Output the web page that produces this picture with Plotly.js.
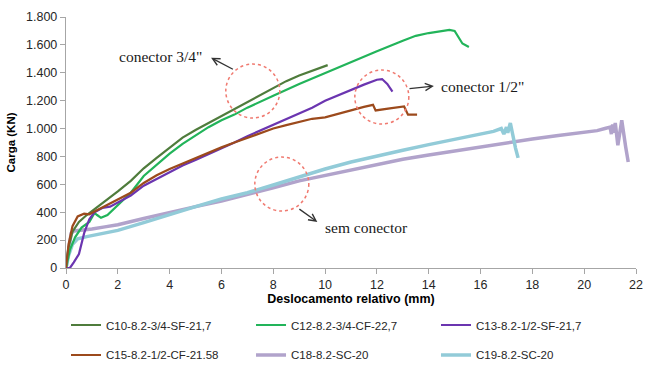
<!DOCTYPE html>
<html>
<head>
<meta charset="utf-8">
<script src="https://cdn.plot.ly/plotly-3.0.1.min.js"></script>
<style>html,body{margin:0;padding:0;background:#fff;}#chart{width:650px;height:365px;}</style>
</head>
<body>
<div id="chart"></div>
<script>
// ---- data ----
var seriesNames = ["C10-8.2-3/4-SF-21,7", "C12-8.2-3/4-CF-22,7", "C13-8.2-1/2-SF-21,7",
                   "C15-8.2-1/2-CF-21.58", "C18-8.2-SC-20", "C19-8.2-SC-20"];

var c10_x = [0, 0.1, 0.25, 0.5, 0.8, 1.2, 1.6, 2, 2.5, 3, 3.5, 4, 4.5, 5, 5.5, 6, 6.5, 7, 7.5, 8, 8.5, 9, 9.5, 10, 10.1];
var c10_y = [0, 150, 260, 330, 380, 435, 490, 550, 625, 715, 790, 865, 935, 990, 1040, 1090, 1140, 1195, 1245, 1295, 1340, 1380, 1415, 1450, 1455];

var c12_x = [0, 0.15, 0.35, 0.6, 0.9, 1.1, 1.2, 1.35, 1.6, 2, 2.5, 3, 3.5, 4, 4.5, 5, 5.5, 6, 6.5, 7, 7.5, 8, 9, 10, 11, 12, 13, 13.5, 14, 14.5, 14.8, 15.0, 15.2, 15.3, 15.55];
var c12_y = [0, 130, 220, 290, 330, 395, 380, 360, 380, 450, 540, 660, 740, 820, 890, 950, 1010, 1060, 1100, 1150, 1190, 1235, 1320, 1400, 1480, 1555, 1630, 1665, 1685, 1700, 1707, 1700, 1640, 1610, 1585];

var c13_x = [0, 0.15, 0.3, 0.5, 0.7, 0.9, 1.1, 1.4, 1.7, 2, 2.5, 3, 3.5, 4, 4.5, 5, 5.5, 6, 6.5, 7, 7.5, 8, 8.5, 9, 9.5, 10, 10.5, 11, 11.5, 12, 12.2, 12.4, 12.6];
var c13_y = [0, 0, 40, 100, 250, 350, 400, 430, 440, 470, 520, 590, 640, 690, 735, 775, 815, 855, 900, 945, 985, 1030, 1070, 1110, 1150, 1200, 1240, 1280, 1315, 1350, 1355, 1320, 1265];

var c15_x = [0, 0.1, 0.25, 0.45, 0.7, 0.9, 1.1, 1.5, 2, 2.5, 3, 3.5, 4, 4.5, 5, 5.5, 6, 6.5, 7, 7.5, 8, 8.5, 9, 9.5, 10, 10.5, 11, 11.5, 11.85, 11.95, 12.5, 13.05, 13.2, 13.55];
var c15_y = [0, 170, 300, 370, 390, 385, 405, 445, 490, 540, 610, 665, 710, 750, 790, 830, 865, 900, 935, 970, 1000, 1025, 1050, 1070, 1080, 1105, 1135, 1155, 1170, 1130, 1145, 1158, 1100, 1100];

var c18_x = [0, 0.1, 0.2, 0.3, 0.6, 1, 1.5, 2, 3, 4, 5, 6, 7, 8, 9, 10, 11, 12, 13, 14, 15, 16, 17, 18, 19, 20, 20.5, 20.8, 21, 21.05, 21.1, 21.15, 21.2, 21.3, 21.45, 21.6, 21.7];
var c18_y = [0, 150, 250, 265, 270, 280, 295, 310, 355, 400, 440, 480, 525, 575, 625, 665, 705, 745, 780, 810, 840, 870, 900, 925, 950, 970, 985, 1000, 1010, 960, 1030, 970, 1040, 880, 1060, 870, 760];

var c19_x = [0, 0.1, 0.25, 0.45, 0.8, 1.5, 2, 3, 4, 5, 6, 7, 8, 9, 10, 11, 12, 13, 14, 15, 16, 16.5, 16.8, 16.9, 17.0, 17.05, 17.15, 17.25, 17.35, 17.45];
var c19_y = [0, 90, 170, 210, 225, 250, 270, 325, 385, 440, 495, 540, 595, 655, 710, 760, 805, 845, 885, 925, 960, 980, 1000, 960, 1010, 970, 1040, 940, 860, 790];

var xTitle = "Deslocamento relativo (mm)";
var yTitle = "Carga (KN)";

var colors = ["#4F7C3C", "#22B45A", "#6B35B0", "#9C4A1C", "#B1A3CB", "#92CBD8"];
var widths = [2.2, 2.2, 2.2, 2.2, 3.5, 3.5];
var xs = [c10_x, c12_x, c13_x, c15_x, c18_x, c19_x];
var ys = [c10_y, c12_y, c13_y, c15_y, c18_y, c19_y];
var legendIds = ["legend", "legend2", "legend3", "legend4", "legend5", "legend6"];

var traces = [];
for (var i = 0; i < 6; i++) {
  traces.push({
    type: "scatter", mode: "lines", name: seriesNames[i],
    x: xs[i], y: ys[i],
    line: {color: colors[i], width: widths[i]},
    legend: legendIds[i]
  });
}
// draw the light ones underneath
traces = [traces[4], traces[5], traces[0], traces[1], traces[2], traces[3]];

var fam = "Liberation Sans, Arial, sans-serif";
var tickFont = {family: fam, size: 12.5, color: "#262626"};
var legFont = {family: fam, size: 11.5, color: "#262626"};
var serif = {family: "Liberation Serif, Times New Roman, serif", size: 15.5, color: "#1a1a1a"};

var circ = function (cx, cy) {
  return {type: "circle", xref: "x", yref: "y", xsizemode: "pixel", ysizemode: "pixel",
          xanchor: cx, yanchor: cy, x0: -27, x1: 27, y0: -27, y1: 27,
          line: {color: "#F07A70", width: 1.5, dash: "3px,3px"}};
};

var arrow = function (tx, ty, fx, fy) {
  return {x: tx, y: ty, ax: fx, ay: fy, xref: "x", yref: "y", axref: "x", ayref: "y",
          text: "", showarrow: true, arrowhead: 5, arrowsize: 1.1, arrowwidth: 1.3, arrowcolor: "#333"};
};

var legPos = function (x, y) {
  return {orientation: "h", x: x, xanchor: "left", y: y, yanchor: "middle",
          itemwidth: 30, font: legFont, bgcolor: "rgba(0,0,0,0)"};
};
var colX = [0, 0.3246, 0.6491];
var rowY = [-0.2271, -0.3466];

var layout = {
  width: 650, height: 365,
  margin: {l: 66, r: 14, t: 17, b: 97, autoexpand: false},
  paper_bgcolor: "#fff", plot_bgcolor: "#fff",
  separators: ",.",
  showlegend: true,
  xaxis: {
    range: [0, 22], dtick: 2, tick0: 0, showgrid: false, zeroline: false,
    showline: true, linecolor: "#A6A6A6", linewidth: 1.2,
    ticks: "outside", ticklen: 5, tickcolor: "#A6A6A6",
    tickfont: tickFont, automargin: false,
    title: {text: "<b>" + xTitle + "</b>", font: {family: fam, size: 12.5, color: "#000"}, standoff: 2}
  },
  yaxis: {
    range: [0, 1800], dtick: 200, tick0: 0, tickformat: ",", showgrid: false, zeroline: false,
    showline: true, linecolor: "#A6A6A6", linewidth: 1.2,
    ticks: "outside", ticklen: 5, tickcolor: "#A6A6A6",
    tickfont: tickFont, automargin: false,
    title: {text: "<b>" + yTitle + "</b>", font: {family: fam, size: 11.5, color: "#000"}, standoff: 8}
  },
  legend: legPos(colX[0], rowY[0]),
  legend2: legPos(colX[1], rowY[0]),
  legend3: legPos(colX[2], rowY[0]),
  legend4: legPos(colX[0], rowY[1]),
  legend5: legPos(colX[1], rowY[1]),
  legend6: legPos(colX[2], rowY[1]),
  shapes: [circ(7.21, 1269), circ(12.19, 1226), circ(8.33, 602)],
  annotations: [
    {x: 3.63, y: 1520, xref: "x", yref: "y", text: "conector 3/4\"", showarrow: false, font: serif},
    arrow(5.6, 1507, 6.5, 1420),
    {x: 14.4, y: 1305, xref: "x", yref: "y", text: "conector 1/2\"", showarrow: false, font: serif, xanchor: "left"},
    arrow(14.2, 1305, 13.2, 1285),
    {x: 9.9, y: 287, xref: "x", yref: "y", text: "sem conector", showarrow: false, font: serif, xanchor: "left"},
    arrow(9.7, 330, 8.95, 430)
  ]
};

Plotly.newPlot("chart", traces, layout, {displayModeBar: false, staticPlot: true});
</script>
</body>
</html>
